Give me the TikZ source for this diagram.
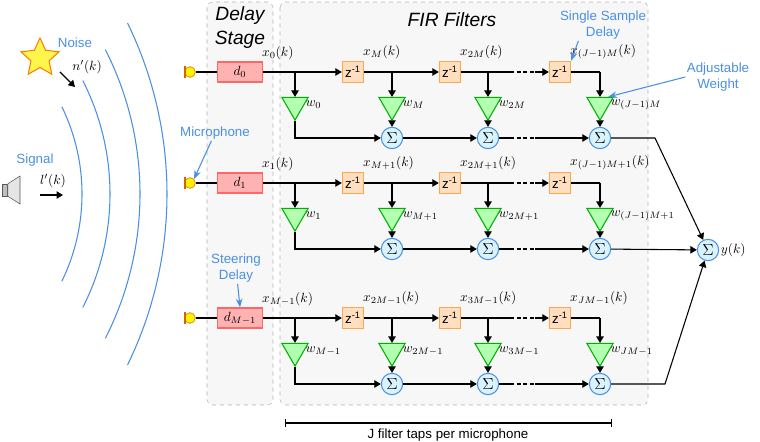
\documentclass[tikz,border=0pt]{standalone}
\usepackage{amsmath}
\usepackage{fontspec}
\setsansfont{Liberation Sans}
\usetikzlibrary{shapes.geometric,shapes.misc,arrows.meta}
\definecolor{noteblue}{HTML}{4A90E2}
\tikzset{
  delay/.style={draw=red!60, thick, fill=red!30, minimum width=34pt, minimum height=15pt, inner sep=1pt},
  zbox/.style={draw=orange!70, thick, fill=orange!25, minimum size=16pt, inner sep=0pt, font=\sffamily},
  weight/.style={isosceles triangle, shape border rotate=-90, isosceles triangle apex angle=60, draw=green!70!black, thick, fill=green!30, inner sep=0pt, minimum height=17pt, minimum width=19pt},
  summ/.style={circle, draw=noteblue, thick, fill=cyan!15, inner sep=0pt, minimum size=16pt, font=\large},
  mic/.style={circle, draw=orange!80!black, fill=yellow, inner sep=0pt, minimum size=8pt},
  note/.style={text=noteblue, font=\sffamily, align=center, inner sep=1pt},
  sig/.style={->, >=Triangle, line width=0.8pt},
  lbl/.style={inner sep=1pt},
  panel/.style={draw=gray!60, dashed, fill=gray!6, rounded corners=4pt}
}
\begin{document}
\begin{tikzpicture}[x=0.75pt, y=-0.75pt, >=Triangle]
\useasboundingbox (0,0) rectangle (760,442);
% panels
\draw[panel] (207,2) rectangle (273,405);
\draw[panel] (280,2) rectangle (648,405);
\node[font=\sffamily\itshape\Large, align=center, inner sep=0pt] (dtitle) at (240,28) {Delay\\Stage};
\node[font=\sffamily\itshape\Large] (ftitle) at (452,20) {FIR Filters};
% waves
\foreach \cx/\r/\a in {-117/199/26, -140/250/27, -178/318/27, -223/390/26}
  \draw[noteblue, thick] plot[domain=-\a:\a, samples=40, smooth] ({\cx+\r*cos(\x)},{194-\r*sin(\x)});
% sources
\node[star, star points=5, star point ratio=2.1, draw=orange, thick, fill=yellow!70, inner sep=0pt, minimum size=30pt] (star) at (40,58) {};
\node[note] (noise) at (75,43) {Noise};
\node[lbl] (nk) at (87,67) {$n'(k)$};
\coordinate (na) at (60,72); \coordinate (nb) at (75,87);
\draw[sig] (na) -- (nb);
\node[draw=gray!70!black, fill=gray!50, minimum width=4pt, minimum height=9pt, inner sep=0pt] (spk) at (5,190) {};
\draw[draw=gray!70!black, fill=gray!20] (spk.north east) -- (20,176) -- (20,204) -- (spk.south east) -- cycle;
\node[note] (signal) at (35,160) {Signal};
\node[lbl] (lk) at (53,181) {$l'(k)$};
\coordinate (la) at (40,195); \coordinate (lb) at (63,195);
\draw[sig] (la) -- (lb);
% rows
\foreach \row/\y/\dl/\qa/\qb/\qc/\qd/\ka/\kb/\kc/\kd in {
  0/72/{d_0}/{x_0(k)}/{x_M(k)}/{x_{2M}(k)}/{x_{(J-1)M}(k)}/{w_0}/{w_M}/{w_{2M}}/{w_{(J-1)M}},
  1/183/{d_1}/{x_1(k)}/{x_{M+1}(k)}/{x_{2M+1}(k)}/{x_{(J-1)M+1}(k)}/{w_1}/{w_{M+1}}/{w_{2M+1}}/{w_{(J-1)M+1}},
  2/318/{d_{M-1}}/{x_{M-1}(k)}/{x_{2M-1}(k)}/{x_{3M-1}(k)}/{x_{JM-1}(k)}/{w_{M-1}}/{w_{2M-1}}/{w_{3M-1}}/{w_{JM-1}}}{
  \node[mic] (m\row) at (190,\y) {};
  \draw[orange!80!black, thick] (185,\y-6) -- (185,\y+6);
  \node[delay] (d\row) at (240,\y) {$\dl$};
  \node[zbox] (za\row) at (353,\y) {z\textsuperscript{-1}};
  \node[zbox] (zb\row) at (450,\y) {z\textsuperscript{-1}};
  \node[zbox] (zc\row) at (560,\y) {z\textsuperscript{-1}};
  \coordinate (ta\row) at (295,\y);
  \coordinate (tb\row) at (392,\y);
  \coordinate (tc\row) at (488,\y);
  \coordinate (td\row) at (600,\y);
  \node[weight] (wa\row) at (295,\y+33) {};
  \node[weight] (wb\row) at (392,\y+33) {};
  \node[weight] (wc\row) at (488,\y+33) {};
  \node[weight] (wd\row) at (600,\y+33) {};
  \node[lbl, anchor=west] at (wa\row.east) {$\ka$};
  \node[lbl, anchor=west] at (wb\row.east) {$\kb$};
  \node[lbl, anchor=west] at (wc\row.east) {$\kc$};
  \node[lbl, anchor=west] at (wd\row.east) {$\kd$};
  \node[summ] (sb\row) at (392,\y+66) {$\Sigma$};
  \node[summ] (sc\row) at (488,\y+66) {$\Sigma$};
  \node[summ] (sd\row) at (600,\y+66) {$\Sigma$};
  \node[lbl, anchor=south west] at ([xshift=-2pt]d\row.north east) {$\qa$};
  \node[lbl, anchor=south west] at ([xshift=-2pt]za\row.north east) {$\qb$};
  \node[lbl, anchor=south west] at ([xshift=-2pt]zb\row.north east) {$\qc$};
  \node[lbl, anchor=south west] at ([xshift=-2pt]zc\row.north east) {$\qd$};
  \draw[thick] (m\row) -- (d\row);
  \draw[sig] (d\row) -- (za\row);
  \draw[sig] (za\row) -- (zb\row);
  \draw[line width=0.8pt] (zb\row) -- (510,\y);
  \draw[line width=0.8pt, dash pattern=on 3pt off 2pt] (510,\y) -- (535,\y);
  \draw[sig] (535,\y) -- (zc\row);
  \draw[line width=0.8pt] (zc\row) -| (td\row);
  \foreach \tp in {a,b,c,d} \draw[sig] (t\tp\row) -- (w\tp\row);
  \draw[sig] (wa\row) |- (sb\row);
  \draw[sig] (wb\row) -- (sb\row);
  \draw[sig] (wc\row) -- (sc\row);
  \draw[sig] (wd\row) -- (sd\row);
  \draw[sig] (sb\row) -- (sc\row);
  \draw[line width=0.8pt] (sc\row) -- (510,\y+66);
  \draw[line width=0.8pt, dash pattern=on 3pt off 2pt] (510,\y+66) -- (535,\y+66);
  \draw[sig] (535,\y+66) -- (sd\row);
}
% output
\node[summ] (sout) at (708,250) {$\Sigma$};
\node[lbl, anchor=west] (yk) at (sout.east) {$y(k)$};
\coordinate (oa) at (655,138); \coordinate (oc) at (665,384);
\draw[sig] (sd0) -- (oa) -- (sout);
\draw[sig] (sd1) -- (sout);
\draw[sig] (sd2) -- (oc) -- (sout);
% notes
\node[note] (nmic) at (215,133) {Microphone};
\draw[->, noteblue, thick, >=Stealth] (nmic) -- (m1.north east);
\node[note] (nsteer) at (236,268) {Steering\\Delay};
\draw[->, noteblue, thick, >=Stealth] (nsteer) -- (d2.north);
\node[note] (nsingle) at (603,25) {Single Sample\\Delay};
\draw[->, noteblue, thick, >=Stealth] (nsingle.south west) ++(20,0) -- (zc0.north east);
\node[note] (nweight) at (718,77) {Adjustable\\Weight};
\draw[->, noteblue, thick, >=Stealth] (nweight.west) -- (wd0.north east);
% bracket
\coordinate (ba) at (285,423); \coordinate (bb) at (612,423);
\draw[|-|, line width=0.8pt] (ba) -- (bb);
\node[font=\sffamily] (jtaps) at (448,435) {J filter taps per microphone};
\end{tikzpicture}
\end{document}
